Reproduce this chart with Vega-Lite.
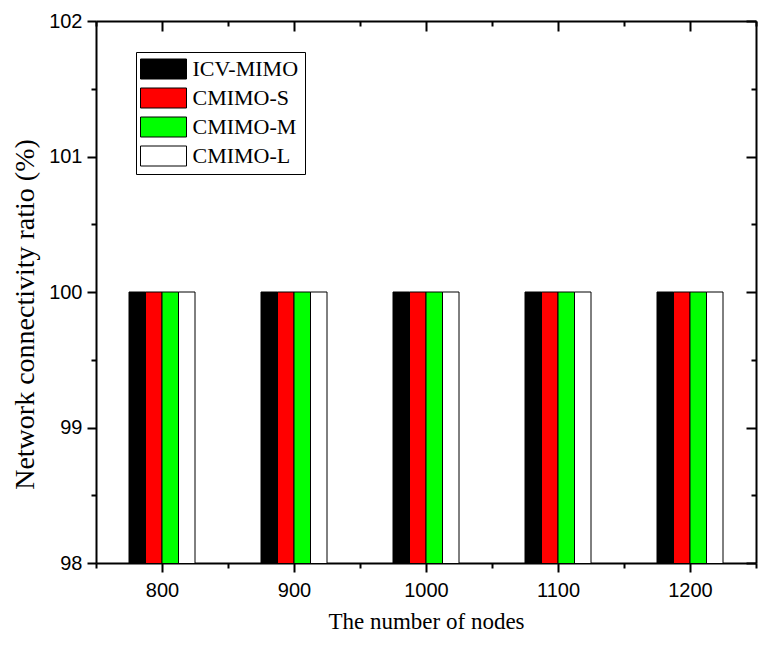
{
  "$schema": "https://vega.github.io/schema/vega-lite/v6.json",
  "autosize": {"type": "none"},
  "padding": {"left": 96, "top": 21, "right": 8, "bottom": 83},
  "width": 660,
  "height": 542,
  "background": "white",
  "config": {
    "view": {"stroke": null},
    "axis": {
      "domainColor": "black", "domainWidth": 2, "tickColor": "black", "tickWidth": 2,
      "labelColor": "black", "labelFont": "Liberation Sans", "labelFontSize": 20,
      "titleColor": "black", "titleFont": "Liberation Serif", "titleFontSize": 23, "titleFontWeight": "normal",
      "grid": false, "zindex": 1
    }
  },
  "data": {
    "values": [
      {"nodes": 800, "method": "ICV-MIMO", "ratio": 100},
      {"nodes": 800, "method": "CMIMO-S", "ratio": 100},
      {"nodes": 800, "method": "CMIMO-M", "ratio": 100},
      {"nodes": 800, "method": "CMIMO-L", "ratio": 100},
      {"nodes": 900, "method": "ICV-MIMO", "ratio": 100},
      {"nodes": 900, "method": "CMIMO-S", "ratio": 100},
      {"nodes": 900, "method": "CMIMO-M", "ratio": 100},
      {"nodes": 900, "method": "CMIMO-L", "ratio": 100},
      {"nodes": 1000, "method": "ICV-MIMO", "ratio": 100},
      {"nodes": 1000, "method": "CMIMO-S", "ratio": 100},
      {"nodes": 1000, "method": "CMIMO-M", "ratio": 100},
      {"nodes": 1000, "method": "CMIMO-L", "ratio": 100},
      {"nodes": 1100, "method": "ICV-MIMO", "ratio": 100},
      {"nodes": 1100, "method": "CMIMO-S", "ratio": 100},
      {"nodes": 1100, "method": "CMIMO-M", "ratio": 100},
      {"nodes": 1100, "method": "CMIMO-L", "ratio": 100},
      {"nodes": 1200, "method": "ICV-MIMO", "ratio": 100},
      {"nodes": 1200, "method": "CMIMO-S", "ratio": 100},
      {"nodes": 1200, "method": "CMIMO-M", "ratio": 100},
      {"nodes": 1200, "method": "CMIMO-L", "ratio": 100}
    ]
  },
  "resolve": {"scale": {"x": "independent"}, "axis": {"x": "independent", "y": "independent"}},
  "layer": [
    {
      "mark": {"type": "bar", "stroke": "black", "strokeWidth": 1, "clip": true},
      "encoding": {
        "x": {"field": "nodes", "type": "ordinal", "axis": null,
              "scale": {"type": "band", "paddingInner": 0.5, "paddingOuter": 0.25}},
        "xOffset": {"field": "method", "type": "nominal",
                    "sort": ["ICV-MIMO", "CMIMO-S", "CMIMO-M", "CMIMO-L"],
                    "scale": {"paddingInner": 0, "paddingOuter": 0}},
        "y": {"field": "ratio", "type": "quantitative", "axis": null,
              "scale": {"domain": [98, 102], "zero": false, "nice": false}},
        "color": {"field": "method", "type": "nominal",
                  "sort": ["ICV-MIMO", "CMIMO-S", "CMIMO-M", "CMIMO-L"],
                  "scale": {"domain": ["ICV-MIMO", "CMIMO-S", "CMIMO-M", "CMIMO-L"],
                            "range": ["#000000", "#ff0000", "#00ff00", "#ffffff"]},
                  "legend": {
                    "title": null, "orient": "none", "legendX": 40, "legendY": 31,
                    "symbolType": "M-2.3,-1H2.3V1H-2.3Z", "symbolSize": 400, "symbolOffset": 10.5,
                    "symbolStrokeColor": "black", "symbolStrokeWidth": 1, "symbolOpacity": 1,
                    "labelFont": "Liberation Serif", "labelFontSize": 22, "labelColor": "black",
                    "labelOffset": 18, "strokeColor": "black", "padding": 6, "rowPadding": 5
                  }}
      }
    },
    {
      "mark": {"type": "point", "opacity": 0},
      "encoding": {
        "x": {"field": "nodes", "type": "quantitative",
              "scale": {"domain": [750, 1250], "nice": false, "zero": false},
              "axis": {"orient": "bottom", "values": [800, 900, 1000, 1100, 1200], "tickSize": 9, "format": "d",
                       "labelPadding": 8, "title": "The number of nodes", "titlePadding": 10}},
        "y": {"field": "ratio", "type": "quantitative",
              "scale": {"domain": [98, 102], "zero": false, "nice": false},
              "axis": {"orient": "left", "values": [98, 99, 100, 101, 102], "tickSize": 9, "format": "d",
                       "labelPadding": 5, "title": "Network connectivity ratio (%)",
                       "titleFontSize": 28, "titleX": -63, "titleY": 293, "titleBaseline": "alphabetic"}}
      }
    },
    {
      "mark": {"type": "point", "opacity": 0},
      "encoding": {
        "x": {"field": "nodes", "type": "quantitative",
              "scale": {"domain": [750, 1250], "nice": false, "zero": false},
              "axis": {"orient": "bottom", "values": [750, 850, 950, 1050, 1150, 1250], "tickSize": 5,
                       "labels": false, "domain": false, "title": null}},
        "y": {"field": "ratio", "type": "quantitative",
              "axis": {"orient": "left", "values": [98.5, 99.5, 100.5, 101.5], "tickSize": 5,
                       "labels": false, "domain": false, "title": null}}
      }
    },
    {
      "mark": {"type": "point", "opacity": 0},
      "encoding": {
        "x": {"field": "nodes", "type": "quantitative",
              "scale": {"domain": [750, 1250], "nice": false, "zero": false},
              "axis": {"orient": "top", "values": [800, 900, 1000, 1100, 1200], "tickSize": -10,
                       "labels": false, "title": null}},
        "y": {"field": "ratio", "type": "quantitative",
              "axis": {"orient": "right", "values": [98, 99, 100, 101, 102], "tickSize": -10,
                       "labels": false, "title": null}}
      }
    },
    {
      "mark": {"type": "point", "opacity": 0},
      "encoding": {
        "x": {"field": "nodes", "type": "quantitative",
              "scale": {"domain": [750, 1250], "nice": false, "zero": false},
              "axis": {"orient": "top", "values": [750, 850, 950, 1050, 1150, 1250], "tickSize": -5,
                       "labels": false, "domain": false, "title": null}},
        "y": {"field": "ratio", "type": "quantitative",
              "axis": {"orient": "right", "values": [98.5, 99.5, 100.5, 101.5], "tickSize": -5,
                       "labels": false, "domain": false, "title": null}}
      }
    }
  ]
}
